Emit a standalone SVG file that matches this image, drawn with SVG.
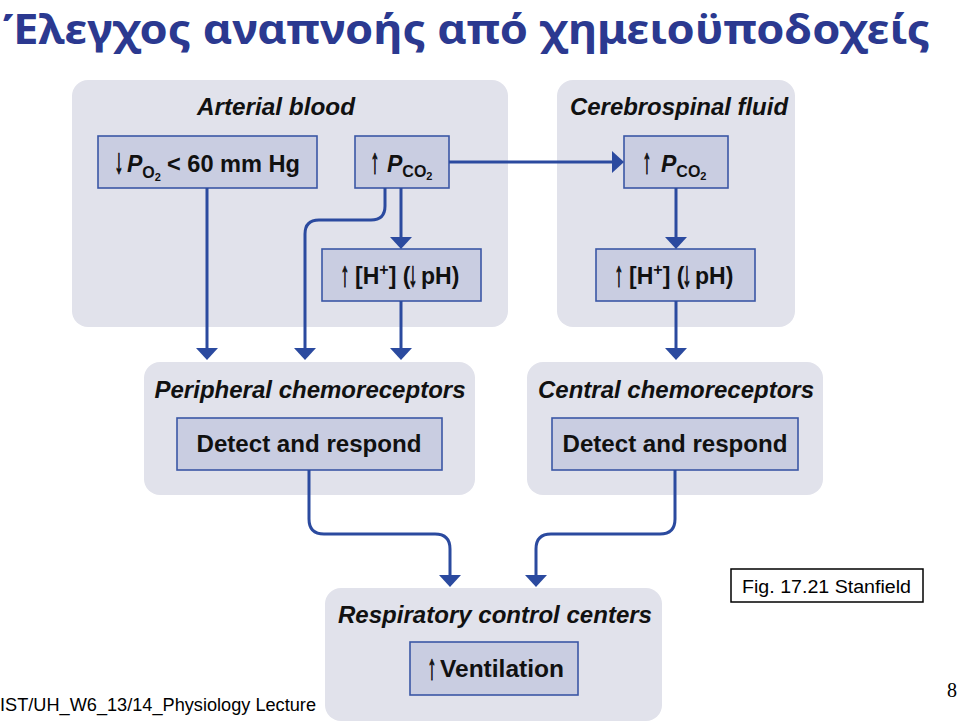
<svg xmlns="http://www.w3.org/2000/svg" width="959" height="726" viewBox="0 0 959 726">
<style>
.panel{fill:#e1e2eb;}
.box{fill:#c9cde1;stroke:#3b57a6;stroke-width:1.6;}
.hd{font-family:"Liberation Sans",Arial,sans-serif;font-weight:bold;font-style:italic;font-size:23px;fill:#111;}
.bt{font-family:"Liberation Sans",Arial,sans-serif;font-weight:bold;font-size:23px;fill:#111;}
.arr{font-family:"Liberation Sans",Arial,sans-serif;font-weight:bold;font-size:22px;fill:#111;stroke:#111;stroke-width:0.7;}
.it{font-style:italic;}
.sub{font-size:16px;font-style:normal;}
.sub2{font-size:11px;font-style:normal;}
.conn{fill:none;stroke:#2b4a9f;stroke-width:3;marker-end:url(#ah);}
.small{font-family:"Liberation Sans",Arial,sans-serif;font-size:18px;fill:#000;}
</style>
<defs>
<marker id="ah" markerUnits="userSpaceOnUse" viewBox="0 0 12 22" markerWidth="12" markerHeight="22" refX="3" refY="11" orient="auto">
<path d="M0,0 L12,11 L0,22 Z" fill="#2b4a9f"/>
</marker>
</defs>
<rect width="959" height="726" fill="#ffffff"/>
<text x="3" y="44" font-family="Noto Sans,DejaVu Sans,sans-serif" font-weight="bold" font-size="42" fill="#2b3990" textLength="927" lengthAdjust="spacingAndGlyphs">Έλεγχος αναπνοής από χημειοϋποδοχείς</text>

<g id="arterial-blood">
<rect class="panel" x="72" y="80" width="436" height="247" rx="16"/>
<text class="hd" x="276" y="115" text-anchor="middle" textLength="158" lengthAdjust="spacingAndGlyphs">Arterial blood</text>
</g>
<g id="po2">
<rect class="box" x="98" y="136" width="219" height="52"/>
<text class="arr" transform="translate(119,173) scale(0.8,1.6)" text-anchor="middle">↓</text>
<text class="bt" x="127" y="172"><tspan class="it">P</tspan><tspan class="sub" dy="6">O</tspan><tspan class="sub2" dy="3">2</tspan><tspan x="167" y="172" textLength="133" lengthAdjust="spacingAndGlyphs">&lt; 60 mm Hg</tspan></text>
</g>
<g id="pco2-arterial">
<rect class="box" x="355" y="136" width="94" height="52"/>
<text class="arr" transform="translate(375,173) scale(0.8,1.6)" text-anchor="middle">↑</text>
<text class="bt" x="387" y="172"><tspan class="it">P</tspan><tspan class="sub" dy="5">CO</tspan><tspan class="sub2" dy="3">2</tspan></text>
</g>
<g id="h-arterial">
<rect class="box" x="322" y="249" width="159" height="52"/>
<text class="arr" transform="translate(345,286) scale(0.8,1.6)" text-anchor="middle">↑</text>
<text class="bt" x="355" y="284">[H<tspan class="sub" dy="-9">+</tspan><tspan dy="9">] (</tspan><tspan x="421">pH)</tspan></text>
<text class="arr" transform="translate(413,286) scale(0.8,1.6)" text-anchor="middle">↓</text>
</g>

<g id="csf">
<rect class="panel" x="557" y="80" width="238" height="247" rx="16"/>
<text class="hd" x="679" y="115" text-anchor="middle" textLength="218" lengthAdjust="spacingAndGlyphs">Cerebrospinal fluid</text>
</g>
<g id="pco2-csf">
<rect class="box" x="624" y="136" width="104" height="52"/>
<text class="arr" transform="translate(647,173) scale(0.8,1.6)" text-anchor="middle">↑</text>
<text class="bt" x="661" y="172"><tspan class="it">P</tspan><tspan class="sub" dy="5">CO</tspan><tspan class="sub2" dy="3">2</tspan></text>
</g>
<g id="h-csf">
<rect class="box" x="596" y="249" width="159" height="52"/>
<text class="arr" transform="translate(619,286) scale(0.8,1.6)" text-anchor="middle">↑</text>
<text class="bt" x="629" y="284">[H<tspan class="sub" dy="-9">+</tspan><tspan dy="9">] (</tspan><tspan x="695">pH)</tspan></text>
<text class="arr" transform="translate(687,286) scale(0.8,1.6)" text-anchor="middle">↓</text>
</g>

<g id="peripheral">
<rect class="panel" x="144" y="362" width="331" height="133" rx="16"/>
<text class="hd" x="310" y="398" text-anchor="middle" textLength="311" lengthAdjust="spacingAndGlyphs">Peripheral chemoreceptors</text>
<rect class="box" x="177" y="418" width="265" height="52"/>
<text class="bt" x="309" y="452" text-anchor="middle" textLength="225" lengthAdjust="spacingAndGlyphs">Detect and respond</text>
</g>
<g id="central">
<rect class="panel" x="527" y="362" width="296" height="133" rx="16"/>
<text class="hd" x="676" y="398" text-anchor="middle" textLength="276" lengthAdjust="spacingAndGlyphs">Central chemoreceptors</text>
<rect class="box" x="552" y="418" width="246" height="52"/>
<text class="bt" x="675" y="452" text-anchor="middle" textLength="225" lengthAdjust="spacingAndGlyphs">Detect and respond</text>
</g>
<g id="respiratory">
<rect class="panel" x="325" y="588" width="337" height="133" rx="16"/>
<text class="hd" x="495" y="623" text-anchor="middle" textLength="314" lengthAdjust="spacingAndGlyphs">Respiratory control centers</text>
<rect class="box" x="410" y="642" width="168" height="53"/>
<text class="arr" transform="translate(432,679) scale(0.8,1.6)" text-anchor="middle">↑</text>
<text class="bt" x="440" y="677" textLength="124" lengthAdjust="spacingAndGlyphs">Ventilation</text>
</g>

<g id="connectors">
<path class="conn" d="M207,188 V351"/>
<path class="conn" d="M385,188 V206 Q385,220 371,220 H319 Q305,220 305,234 V351"/>
<path class="conn" d="M401,188 V240"/>
<path class="conn" d="M401,301 V351"/>
<path class="conn" d="M449,162 H615"/>
<path class="conn" d="M676,188 V240"/>
<path class="conn" d="M676,301 V351"/>
<path class="conn" d="M309,470 V519 Q309,534 324,534 H435 Q450,534 450,549 V578"/>
<path class="conn" d="M675,470 V519 Q675,534 660,534 H551 Q536,534 536,549 V578"/>
</g>

<g id="fig-label">
<rect x="731" y="569" width="192" height="33" fill="#fff" stroke="#000" stroke-width="1.5"/>
<text class="small" x="742" y="593" textLength="169" lengthAdjust="spacingAndGlyphs">Fig. 17.21 Stanfield</text>
</g>
<text class="small" x="0" y="711" textLength="316" lengthAdjust="spacingAndGlyphs">IST/UH_W6_13/14_Physiology Lecture</text>
<text x="947" y="697" font-family="Liberation Serif,Times New Roman,serif" font-size="20" fill="#000">8</text>
</svg>
